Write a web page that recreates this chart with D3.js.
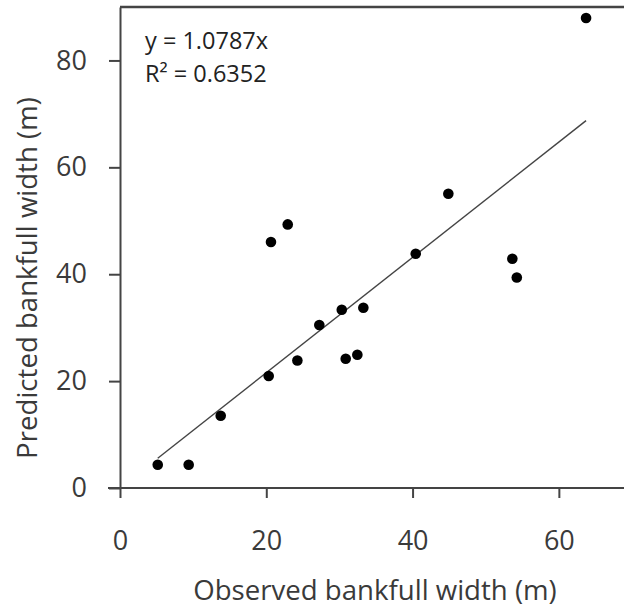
<!DOCTYPE html>
<html>
<head>
<meta charset="utf-8">
<script src="https://cdn.jsdelivr.net/npm/d3@7"></script>
<style>
  body { margin: 0; background: #fff; }
  text { font-family: "Open Sans", sans-serif; fill: #3a3a3a; }
</style>
</head>
<body>
<div id="scatter"></div>
<script>
// data
var observed = [5.16, 9.39, 13.77, 20.33, 20.64, 22.93, 24.25, 27.25, 30.32, 30.86, 32.45, 33.27, 40.43, 44.89, 53.64, 54.25, 63.72];
var predicted = [4.36, 4.36, 13.53, 20.95, 46.02, 49.32, 23.87, 30.50, 33.36, 24.19, 24.94, 33.73, 43.84, 55.06, 42.90, 39.40, 87.93];
var xTicks = [0, 20, 40, 60];
var yTicks = [0, 20, 40, 60, 80];
var slope = 1.0787;
var eqLabels = ["y = 1.0787x", "R² = 0.6352"];

var data = observed.map(function(d, i) { return {x: d, y: predicted[i]}; });

// set the dimensions and margins of the graph
var margin = {top: 7, right: 0, bottom: 119, left: 120},
    width = 512,
    height = 481;

var svg = d3.select("#scatter")
    .append("svg")
    .attr("width", 624)
    .attr("height", 607)
    .append("g")
    .attr("transform", "translate(" + margin.left + "," + margin.top + ")");

var x = d3.scaleLinear()
    .domain([0, 70])
    .range([0, width]);

var y = d3.scaleLinear()
    .domain([0, 90])
    .range([height, 0]);

// top border
svg.append("line")
    .attr("x1", 0).attr("x2", width)
    .attr("y1", 0).attr("y2", 0)
    .attr("stroke", "#444")
    .attr("stroke-width", 2.5);

// X axis
var gx = svg.append("g")
    .attr("transform", "translate(0," + height + ")")
    .call(d3.axisBottom(x).tickValues(xTicks).tickSizeInner(10).tickSizeOuter(0));
gx.selectAll("text")
    .attr("y", 62)
    .attr("dy", 0)
    .style("font-size", "27px");

// Y axis
var gy = svg.append("g")
    .call(d3.axisLeft(y).tickValues(yTicks).tickSizeInner(11).tickSizeOuter(0));
gy.selectAll("text")
    .attr("x", -33)
    .style("font-size", "27px");

svg.selectAll(".domain, .tick line")
    .attr("stroke", "#444")
    .attr("stroke-width", 2);

// extend x axis line a little to the left, like a cross at 0
gx.select(".domain").attr("d", "M-12,0H" + width);

// trendline y = 1.0787x over the observed range
var xr = d3.extent(observed);
svg.append("path")
    .datum(xr)
    .attr("fill", "none")
    .attr("stroke", "#444")
    .attr("stroke-width", 1.4)
    .attr("d", d3.line()
        .x(function(d) { return x(d); })
        .y(function(d) { return y(slope * d); }));

// points
svg.selectAll("circle")
    .data(data)
    .enter()
    .append("circle")
    .attr("cx", function(d) { return x(d.x); })
    .attr("cy", function(d) { return y(d.y); })
    .attr("r", 5.3)
    .attr("fill", "#000");

// equation label
svg.selectAll(".eq")
    .data(eqLabels)
    .enter()
    .append("text")
    .attr("class", "eq")
    .attr("x", 25)
    .attr("y", function(d, i) { return 42 + i * 33; })
    .style("font-size", "23.5px")
    .style("fill", "#222")
    .text(function(d) { return d; });

// axis titles
svg.append("text")
    .attr("x", 255)
    .attr("y", 593)
    .attr("text-anchor", "middle")
    .style("font-size", "27.6px")
    .text("Observed bankfull width (m)");

svg.append("text")
    .attr("transform", "translate(" + (37 - margin.left) + "," + (278 - margin.top) + ")rotate(-90)")
    .attr("text-anchor", "middle")
    .style("font-size", "27.6px")
    .text("Predicted bankfull width (m)");
</script>
</body>
</html>
